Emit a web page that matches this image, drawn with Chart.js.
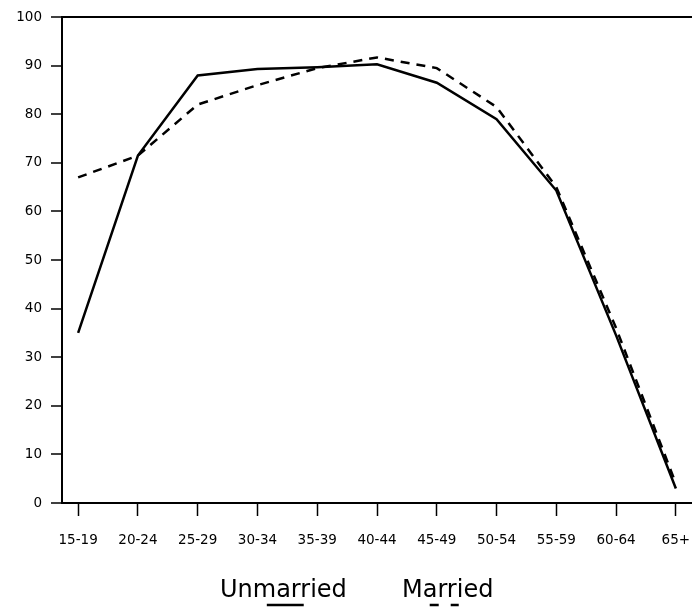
<!DOCTYPE html>
<html>
<head>
<meta charset="utf-8">
<script src="https://cdn.jsdelivr.net/npm/chart.js@4/dist/chart.umd.min.js"></script>
<style>
  body { margin: 0; background: #fff; }
  #wrap { width: 692px; height: 609px; }
</style>
</head>
<body>
<div id="wrap"><canvas id="chart"></canvas></div>
<script>
const ages = ['15-19', '20-24', '25-29', '30-34', '35-39', '40-44', '45-49', '50-54', '55-59', '60-64', '65+'];
const unmarried = [35, 71.5, 88, 89.3, 89.7, 90.3, 86.5, 79, 64.3, 34.5, 3];
const married = [67, 71.5, 82, 86, 89.5, 91.7, 89.5, 81.5, 65, 36, 4];
const seriesNames = ['Unmarried', 'Married'];

function toPoints(values) {
    return values.map((v, i) => ({ x: i, y: v }));
}

// legend drawn as words with a short line sample under a few letters
const underLegend = {
    id: 'underLegend',
    afterDraw(chart) {
        const ctx = chart.ctx;
        ctx.save();
        ctx.font = '24px "DejaVu Sans"';
        ctx.fillStyle = '#000';
        ctx.textBaseline = 'alphabetic';
        const baseY = 597;
        const lineY = 605;

        // Unmarried
        let x0 = 220;
        let word = seriesNames[0];
        ctx.fillText(word, x0, baseY);
        let a = x0 + ctx.measureText('Un').width + ctx.measureText('m').width * 0.6;
        let b = x0 + ctx.measureText('Unmar').width + 3;
        ctx.strokeStyle = '#000';
        ctx.lineWidth = 2.5;
        ctx.setLineDash(chart.data.datasets[0].borderDash || []);
        ctx.beginPath();
        ctx.moveTo(a, lineY);
        ctx.lineTo(b, lineY);
        ctx.stroke();

        // Married
        x0 = 402;
        word = seriesNames[1];
        ctx.fillText(word, x0, baseY);
        a = x0 + ctx.measureText('M').width + 7;
        b = x0 + ctx.measureText('Marr').width + 2;
        ctx.setLineDash([9, 12]);
        ctx.beginPath();
        ctx.moveTo(a, lineY);
        ctx.lineTo(b, lineY);
        ctx.stroke();
        ctx.restore();
    }
};

const ctx1 = document.getElementById('chart').getContext('2d');
new Chart(ctx1, {
    type: 'line',
    data: {
        datasets: [
            {
                label: seriesNames[0],
                data: toPoints(unmarried),
                borderColor: '#000',
                borderWidth: 2.5,
                pointRadius: 0,
                tension: 0,
                fill: false
            },
            {
                label: seriesNames[1],
                data: toPoints(married),
                borderColor: '#000',
                borderWidth: 2.5,
                borderDash: [9, 7],
                pointRadius: 0,
                tension: 0,
                fill: false
            }
        ]
    },
    options: {
        responsive: true,
        maintainAspectRatio: false,
        animation: false,
        layout: { padding: { top: 16, right: 0, bottom: 56, left: 0 } },
        plugins: {
            legend: { display: false },
            tooltip: { enabled: false }
        },
        scales: {
            x: {
                type: 'linear',
                min: -0.27,
                max: 10.27,
                afterBuildTicks: (scale) => {
                    scale.ticks = ages.map((_, i) => ({ value: i }));
                },
                afterFit: (scale) => {
                    scale.height = 50;
                    scale.paddingLeft = 0;
                    scale.paddingRight = 0;
                },
                border: { color: '#000', width: 2 },
                grid: {
                    drawOnChartArea: false,
                    color: '#000',
                    tickLength: 13,
                    tickWidth: 1.5
                },
                ticks: {
                    autoSkip: false,
                    maxRotation: 0,
                    padding: 16,
                    color: '#000',
                    font: { family: '"DejaVu Sans"', size: 13.5 },
                    callback: (v) => ages[v]
                }
            },
            y: {
                min: 0,
                max: 100,
                afterFit: (scale) => { scale.width = 62; },
                border: { color: '#000', width: 2 },
                grid: {
                    color: (c) => c.tick && c.tick.value === 100 ? '#000' : 'rgba(0,0,0,0)',
                    lineWidth: 2,
                    tickColor: '#000',
                    tickLength: 11,
                    tickWidth: 1.5
                },
                ticks: {
                    stepSize: 10,
                    padding: 9,
                    color: '#000',
                    font: { family: '"DejaVu Sans"', size: 13.5 }
                }
            }
        }
    },
    plugins: [underLegend]
});
</script>
</body>
</html>
